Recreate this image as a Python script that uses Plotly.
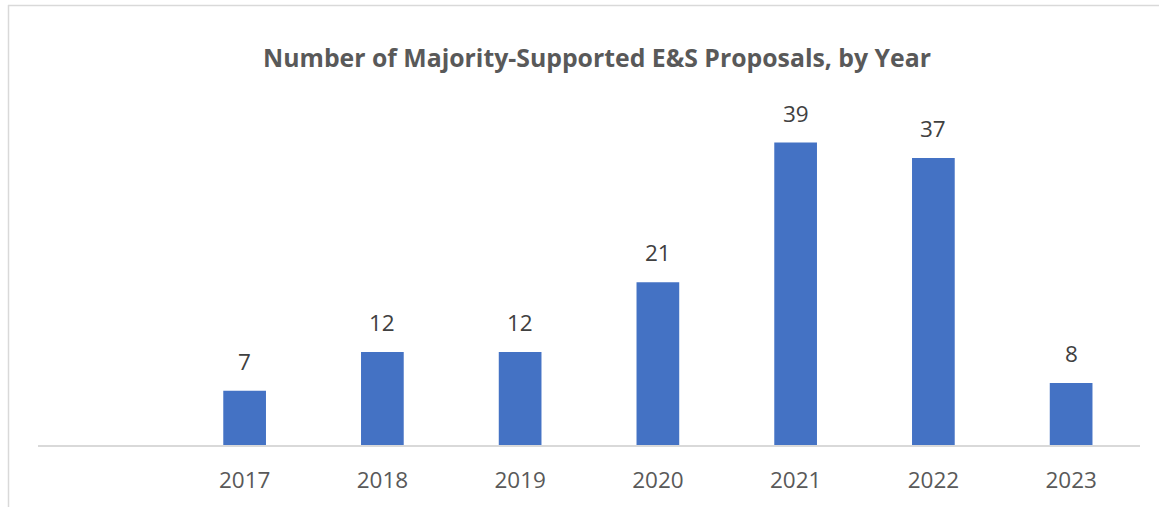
import plotly.graph_objects as go

# Majority-supported E&S shareholder proposals per year
years = [2017, 2018, 2019, 2020, 2021, 2022, 2023]
counts = [7, 12, 12, 21, 39, 37, 8]
tick_labels = [str(y) for y in years]

BAR_COLOR = "#4472C4"
TEXT_COLOR = "#595959"
LABEL_COLOR = "#404040"
FRAME_COLOR = "#D9D9D9"
FONT = "Open Sans"

fig = go.Figure()
fig.add_trace(go.Bar(
    x=years,
    y=counts,
    width=0.31,
    marker=dict(color=BAR_COLOR, line=dict(width=0)),
    hoverinfo="x+y",
))

# value labels above each bar
for yr, c in zip(years, counts):
    fig.add_annotation(
        x=yr, y=c, text=str(c), showarrow=False,
        yanchor="bottom", yshift=12,
        font=dict(family=FONT, size=22.5, color=LABEL_COLOR),
    )

fig.update_layout(
    width=1159, height=507,
    margin=dict(l=38, r=19, t=96, b=62, autoexpand=False),
    paper_bgcolor="white", plot_bgcolor="white",
    showlegend=False,
    title=dict(
        text="<b>Number of Majority-Supported E&S Proposals, by Year</b>",
        x=597 / 1159, xref="container", xanchor="center",
        y=1 - 58 / 507, yanchor="middle",
        font=dict(family=FONT, size=24.8, color=TEXT_COLOR),
    ),
    xaxis=dict(
        range=[2015.5, 2023.5],
        tickvals=years, ticktext=tick_labels,
        showgrid=False, zeroline=False,
        showline=True, linecolor=FRAME_COLOR, linewidth=1.5,
        ticks="", ticklabelstandoff=14,
        tickfont=dict(family=FONT, size=22.5, color=TEXT_COLOR),
        automargin=False,
        fixedrange=True,
    ),
    yaxis=dict(
        range=[0, 45],
        visible=False, showgrid=False, zeroline=False,
        automargin=False,
        fixedrange=True,
    ),
)

# outer chart frame (left and top edges)
fig.add_shape(type="line", xref="paper", yref="paper",
              x0=(8.5 - 38) / 1102, x1=(8.5 - 38) / 1102,
              y0=(445 - 5) / 349, y1=(445 - 520) / 349,
              line=dict(color=FRAME_COLOR, width=1.5))
fig.add_shape(type="line", xref="paper", yref="paper",
              x0=(8 - 38) / 1102, x1=(1170 - 38) / 1102,
              y0=(445 - 5.5) / 349, y1=(445 - 5.5) / 349,
              line=dict(color=FRAME_COLOR, width=1.5))

fig.write_html("out.html")
